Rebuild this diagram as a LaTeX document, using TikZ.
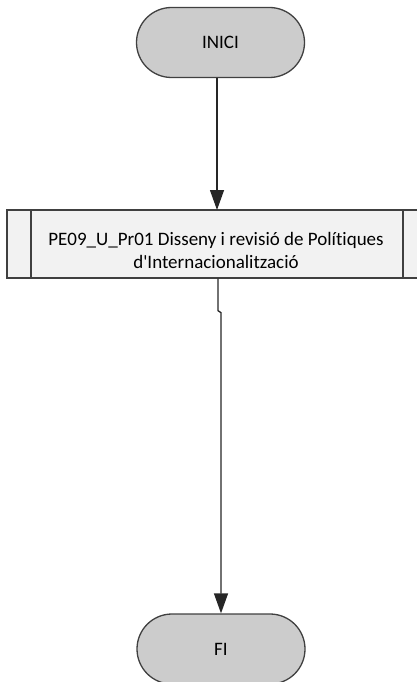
\documentclass[tikz,border=0pt]{standalone}
\usepackage{fontspec}
\setmainfont[Ligatures={NoCommon}]{Carlito}
\usetikzlibrary{arrows.meta,shapes.misc,positioning}
\tikzset{
  terminal/.style={rounded rectangle,draw=black!75,line width=1.3pt,fill=gray!40,minimum width=168pt,minimum height=70pt,inner sep=0pt,font=\fontsize{19}{23}\selectfont},
  proces/.style={rectangle,draw=black!75,line width=1.3pt,fill=gray!10,minimum width=422pt,minimum height=68pt,inner sep=0pt},
  fletxa/.style={-{Triangle[width=14pt,length=20pt]},line width=1.3pt,black!85}
}

\begin{document}
\begin{tikzpicture}[x=1pt,y=-1pt]
\clip (0,0) rectangle (417,682);
% inici
\node[terminal] (inici) at (220.5,42.5) {INICI};
% proces
\node[proces] (pr) at (218,244) {};
\draw[black!75,line width=1.3pt] (31,210) -- (31,278);
\draw[black!75,line width=1.3pt] (403,210) -- (403,278);
\node[align=center,font=\fontsize{19}{23}\selectfont] (prtext) at (216,250) {PE09\_U\_Pr01 Disseny i revisió de Polítiques\\d\textquotesingle Internacionalització};
% fi
\node[terminal] (fi) at (221,649) {FI};
% fletxes
\draw[fletxa] (inici.south -| 217,0) -- (217,210);
\draw[fletxa] (pr.south) -- ++(0,32) -- ++(3,2) -- (fi.north);
\end{tikzpicture}
\end{document}
